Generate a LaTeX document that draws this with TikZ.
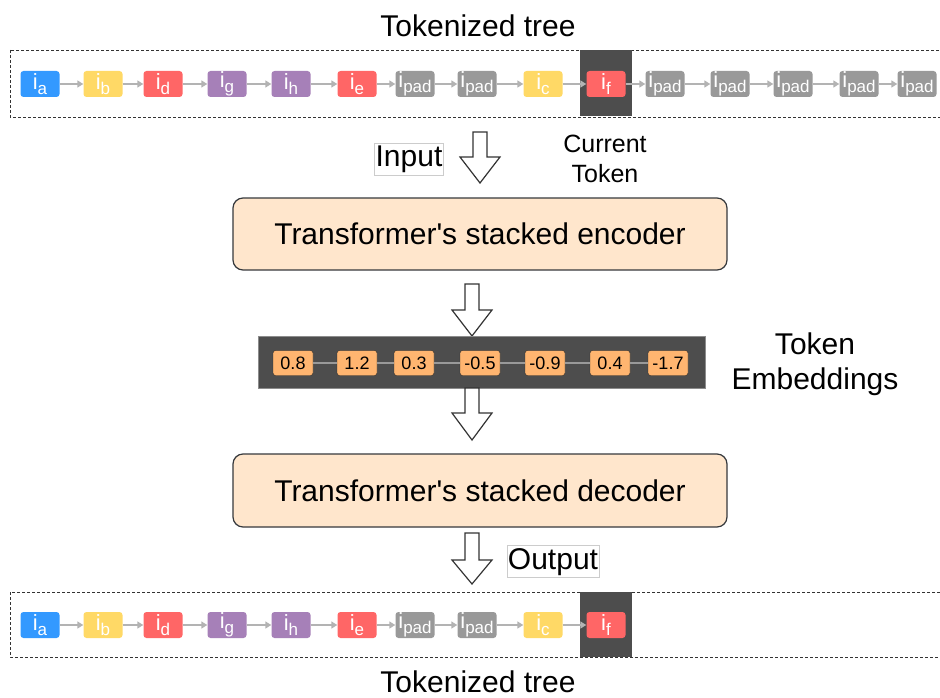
\documentclass[tikz,border=0pt]{standalone}
\usepackage{fontspec}
\setmainfont{Liberation Sans}
\usetikzlibrary{arrows.meta}

\definecolor{tokblue}{HTML}{3399FF}
\definecolor{tokyellow}{HTML}{FFD966}
\definecolor{tokred}{HTML}{FF6666}
\definecolor{tokpurple}{HTML}{A680B8}
\definecolor{tokgray}{HTML}{999999}
\definecolor{darkbg}{HTML}{4D4D4D}
\definecolor{peach}{HTML}{FFE6CC}
\definecolor{peachline}{HTML}{36393D}
\definecolor{embfill}{HTML}{FFB570}
\definecolor{linkgray}{HTML}{B3B3B3}

% token label: "i" with a lowered index
\newcommand{\tokname}[1]{i\raisebox{-5.5pt}{\fontsize{17}{17}\selectfont #1}}
% hollow downward block arrow: centre x, top, head top, tip
\newcommand{\hollowdown}[4]{%
  \draw[hollow] ({#1-7},#2) -- ({#1+7},#2) -- ({#1+7},#3) -- ({#1+20},#3)
    -- (#1,#4) -- ({#1-20},#3) -- ({#1-7},#3) -- cycle;}

\begin{document}
\begin{tikzpicture}[x=1pt,y=-1pt,
  tok/.style={rounded corners=3pt, minimum width=39pt, minimum height=26pt,
    inner sep=0pt, text=white, font=\fontsize{22}{22}\selectfont},
  tokarrow/.style={draw=linkgray, line width=1.6pt,
    -{Triangle[length=6pt,width=7pt]}},
  dashbox/.style={draw=black!80, line width=0.9pt, dash pattern=on 3pt off 2pt},
  curbox/.style={fill=darkbg, minimum width=52pt, inner sep=0pt},
  block/.style={draw=peachline, fill=peach, line width=1.2pt, rounded corners=10pt,
    minimum width=494pt, minimum height=72pt, font=\fontsize{30}{36}\selectfont},
  emb/.style={draw=black!85, fill=embfill, rounded corners=2.5pt, minimum width=40pt,
    minimum height=25pt, inner sep=0pt, font=\fontsize{18}{18}\selectfont},
  emblink/.style={draw=tokgray, line width=1.8pt},
  hollow/.style={draw=black!80, fill=white, line width=1.2pt, line join=miter},
  lbl/.style={draw=black!20, fill=white, line width=0.6pt, inner sep=1pt,
    text height=23pt, text depth=7pt, font=\fontsize{30}{36}\selectfont},
  txt/.style={font=\fontsize{30}{35}\selectfont, align=center, inner sep=0pt}
]
\useasboundingbox (0,0) rectangle (940,698);
\fill[white] (0,0) rectangle (940,698);

% ---------- input sequence ----------
\node[txt, anchor=base] (toptitle) at (478,37) {Tokenized tree};
\draw[dashbox] (10,50) rectangle (960,117);
\node[curbox, minimum height=66pt] (curtop) at (606,83.5) {};
\foreach \i/\x/\l/\c in {1/40/a/tokblue, 2/103/b/tokyellow, 3/163/d/tokred,
    4/227/g/tokpurple, 5/291/h/tokpurple, 6/357/e/tokred, 7/415/pad/tokgray,
    8/477/pad/tokgray, 9/543/c/tokyellow, 10/606/f/tokred, 11/665/pad/tokgray,
    12/730/pad/tokgray, 13/793/pad/tokgray, 14/859/pad/tokgray, 15/917/pad/tokgray}
  \node[tok, fill=\c] (t\i) at (\x,84) {\tokname{\l}};
\foreach \i [count=\j from 2] in {1,...,14}
  \draw[tokarrow] (t\i) -- (t\j);

\node[inner sep=0pt, align=center, font=\fontsize{25}{30}\selectfont] (curlbl)
  at (605,159) {Current\\Token};
\node[lbl] (inlbl) at (409,159) {Input};
\hollowdown{480}{132}{157}{183}

% ---------- encoder ----------
\node[block] (enc) at (480,234) {Transformer\textquotesingle s stacked encoder};
\hollowdown{472}{284}{310}{336}

% ---------- embeddings ----------
\node[fill=darkbg, draw=black!45, line width=0.8pt, minimum width=447pt,
  minimum height=52pt, inner sep=0pt] (embbar) at (481.5,362) {};
\foreach \i/\x/\v in {1/293/0.8, 2/357/1.2, 3/414/0.3, 4/480/-0.5,
    5/545/-0.9, 6/610/0.4, 7/668/-1.7}
  \node[emb] (e\i) at (\x,363) {\v};
\foreach \i [count=\j from 2] in {1,...,6}
  \draw[emblink] (e\i) -- (e\j);
\node[txt] (emblbl) at (815,364) {Token\\Embeddings};
\hollowdown{472}{388}{413}{440}

% ---------- decoder ----------
\node[block, minimum height=73pt] (dec) at (480,490.5) {Transformer\textquotesingle s stacked decoder};
\hollowdown{472}{533}{560}{584}
\node[lbl] (outlbl) at (553,561) {Output};

% ---------- output sequence ----------
\draw[dashbox] (10,592) rectangle (960,657);
\node[curbox, minimum height=65pt] (curbot) at (606,624.5) {};
\foreach \i/\x/\l/\c in {1/40/a/tokblue, 2/103/b/tokyellow, 3/163/d/tokred,
    4/227/g/tokpurple, 5/291/h/tokpurple, 6/357/e/tokred, 7/415/pad/tokgray,
    8/477/pad/tokgray, 9/543/c/tokyellow, 10/606/f/tokred}
  \node[tok, fill=\c] (b\i) at (\x,625) {\tokname{\l}};
\foreach \i [count=\j from 2] in {1,...,9}
  \draw[tokarrow] (b\i) -- (b\j);
\node[txt, anchor=base] (bottitle) at (478,692) {Tokenized tree};
\end{tikzpicture}
\end{document}
